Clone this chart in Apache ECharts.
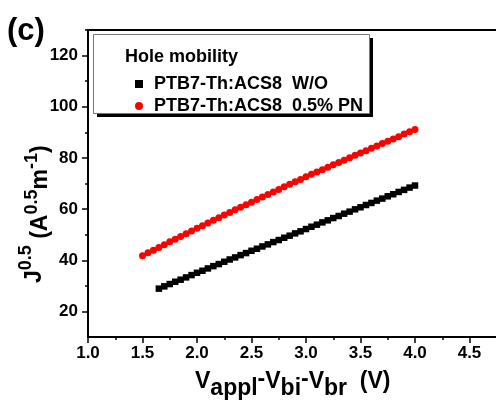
<!DOCTYPE html>
<html>
<head>
<meta charset="utf-8">
<script src="https://cdn.jsdelivr.net/npm/echarts@6/dist/echarts.min.js"></script>
<style>
  html, body { margin: 0; padding: 0; background: #fff; }
  #chart { width: 496px; height: 403px; }
</style>
</head>
<body>
<div id="chart"></div>
<script>
const FONT = '"Liberation Sans", Arial, Helvetica, sans-serif';

// Bias V_appl - V_bi - V_br (V) and sqrt(J) for the reference device (W/O)
const voltsWO = [1.65,1.70,1.75,1.80,1.85,1.90,1.95,2.00,2.05,2.10,2.15,2.20,2.25,2.30,2.35,2.40,
  2.45,2.50,2.55,2.60,2.65,2.70,2.75,2.80,2.85,2.90,2.95,3.00,3.05,3.10,3.15,3.20,3.25,3.30,
  3.35,3.40,3.45,3.50,3.55,3.60,3.65,3.70,3.75,3.80,3.85,3.90,3.95,4.00];
const sqrtJWO = [28.9,29.8,30.7,31.6,32.4,33.3,34.2,35.1,35.9,36.8,37.7,38.5,39.4,40.3,41.1,42.0,
  42.8,43.7,44.5,45.4,46.2,47.1,47.9,48.8,49.6,50.5,51.3,52.2,53.1,53.9,54.8,55.6,56.5,57.3,
  58.2,59.0,59.9,60.7,61.6,62.4,63.3,64.1,65.0,65.8,66.7,67.5,68.4,69.2];

// Same quantities for the device with 0.5% PN
const voltsPN = [1.50,1.55,1.60,1.65,1.70,1.75,1.80,1.85,1.90,1.95,2.00,2.05,2.10,2.15,2.20,2.25,
  2.30,2.35,2.40,2.45,2.50,2.55,2.60,2.65,2.70,2.75,2.80,2.85,2.90,2.95,3.00,3.05,3.10,3.15,
  3.20,3.25,3.30,3.35,3.40,3.45,3.50,3.55,3.60,3.65,3.70,3.75,3.80,3.85,3.90,3.95,4.00];
const sqrtJPN = [41.8,42.9,43.9,45.0,46.1,47.2,48.2,49.3,50.4,51.4,52.5,53.5,54.6,55.6,56.6,57.7,
  58.7,59.7,60.7,61.7,62.7,63.7,64.7,65.7,66.7,67.7,68.7,69.7,70.7,71.6,72.6,73.6,74.5,75.4,
  76.4,77.3,78.2,79.1,80.1,81.0,81.9,82.8,83.8,84.7,85.6,86.5,87.4,88.3,89.3,90.2,91.1];

const seriesNames = ['PTB7-Th:ACS8  W/O', 'PTB7-Th:ACS8  0.5% PN'];
const legendTitle = 'Hole mobility';
const panelLabel = '(c)';

// Axis ticks
const yMajorTicks = [20, 40, 60, 80, 100, 120];
const yMinorTicks = [30, 50, 70, 90, 110, 130];

// Axis titles as runs of [text, fontSize, baseline shift]
const xTitleRuns = [['V',23,0],['appl',23,7],['-',23,-2],['V',23,0],['bi',23,7],['-',23,-2],
  ['V',23,0],['br',23,7],['  (V)',23,0]];
const yTitleRuns = [['J',23,0],['0.5',18,-11],[' ',23,0],['(A',23,6],['0.5',18,-5],
  ['m',23,6],['-1',18,-5],[')',23,6]];

const zip = (xs, ys) => xs.map((x, i) => [x, ys[i]]);

// lay out a run of bold text pieces along a baseline
const measureCtx = document.createElement('canvas').getContext('2d');
function textRun(runs) {
  let x = 0;
  return runs.map(([t, size, dy]) => {
    const font = 'bold ' + size + 'px ' + FONT;
    measureCtx.font = font;
    const el = {
      type: 'text', x: x, y: dy - 0.35 * size,
      style: { text: t, font: font, fill: '#000', align: 'left', verticalAlign: 'middle' }
    };
    x += measureCtx.measureText(t).width;
    return el;
  });
}

const chart = echarts.init(document.getElementById('chart'), null, { renderer: 'canvas' });

const tickLabel = { color: '#000', fontSize: 17, fontWeight: 'bold', fontFamily: FONT };

chart.setOption({
  animation: false,
  backgroundColor: '#fff',
  grid: { left: 88, top: 30, width: 436, height: 307, containLabel: false, outerBoundsMode: 'none' },
  xAxis: [{
    type: 'value', min: 1, max: 5, interval: 0.5,
    axisLine: { show: true, onZero: false, lineStyle: { color: '#000', width: 2 } },
    axisTick: { show: true, inside: false, length: 6, lineStyle: { color: '#000', width: 1.5 } },
    minorTick: { show: true, splitNumber: 2, length: 3, lineStyle: { color: '#000', width: 1.5 } },
    splitLine: { show: false },
    axisLabel: Object.assign({ margin: 8, formatter: v => v.toFixed(1) }, tickLabel)
  }, {
    type: 'value', min: 1, max: 5, position: 'top',
    axisLine: { show: true, onZero: false, lineStyle: { color: '#000', width: 2 } },
    axisTick: { show: false }, axisLabel: { show: false }, splitLine: { show: false }
  }],
  yAxis: [{
    type: 'value', min: 10, max: 130,
    axisLine: { show: true, onZero: false, lineStyle: { color: '#000', width: 2 } },
    axisTick: { show: true, inside: false, length: 6, customValues: yMajorTicks,
      lineStyle: { color: '#000', width: 1.5 } },
    splitLine: { show: false },
    axisLabel: Object.assign({ margin: 10, customValues: yMajorTicks }, tickLabel)
  }, {
    type: 'value', min: 10, max: 130, position: 'left', offset: 0,
    axisLine: { show: false },
    axisTick: { show: true, inside: false, length: 3, customValues: yMinorTicks,
      lineStyle: { color: '#000', width: 1.5 } },
    axisLabel: { show: false }, splitLine: { show: false }
  }],
  legend: {
    orient: 'vertical', left: 130, top: 70, itemWidth: 8, itemHeight: 8, itemGap: 4, z: 10,
    data: [{ name: seriesNames[0], icon: 'rect' }, { name: seriesNames[1], icon: 'circle' }],
    textStyle: { color: '#000', fontSize: 18, fontWeight: 'bold', fontFamily: FONT, padding: [0, 0, 0, 6] }
  },
  graphic: [
    // legend frame: solid offset shadow, then the white panel
    { type: 'rect', z: 4, shape: { x: 97, y: 38, width: 276, height: 79 },
      style: { fill: '#000' } },
    { type: 'rect', z: 5, shape: { x: 93.5, y: 34.5, width: 276, height: 79 },
      style: { fill: '#fff', stroke: '#777', lineWidth: 1 } },
    { type: 'text', z: 11, x: 125, y: 57,
      style: { text: legendTitle, font: 'bold 18px ' + FONT, fill: '#000', verticalAlign: 'middle' } },
    { type: 'text', z: 11, x: 7, y: 31,
      style: { text: panelLabel, font: 'bold 31px ' + FONT, fill: '#000', verticalAlign: 'middle' } },
    { type: 'group', x: 195, y: 390, children: textRun(xTitleRuns) },
    { type: 'group', x: 43, y: 283, rotation: Math.PI / 2, children: textRun(yTitleRuns) }
  ],
  series: [{
    name: seriesNames[0], type: 'scatter', xAxisIndex: 0, yAxisIndex: 0,
    symbol: 'rect', symbolSize: 6.5, itemStyle: { color: '#000', opacity: 1 },
    data: zip(voltsWO, sqrtJWO)
  }, {
    name: seriesNames[1], type: 'scatter', xAxisIndex: 0, yAxisIndex: 0,
    symbol: 'circle', symbolSize: 7, itemStyle: { color: '#ff0000', opacity: 1 },
    data: zip(voltsPN, sqrtJPN)
  }]
});
</script>
</body>
</html>
